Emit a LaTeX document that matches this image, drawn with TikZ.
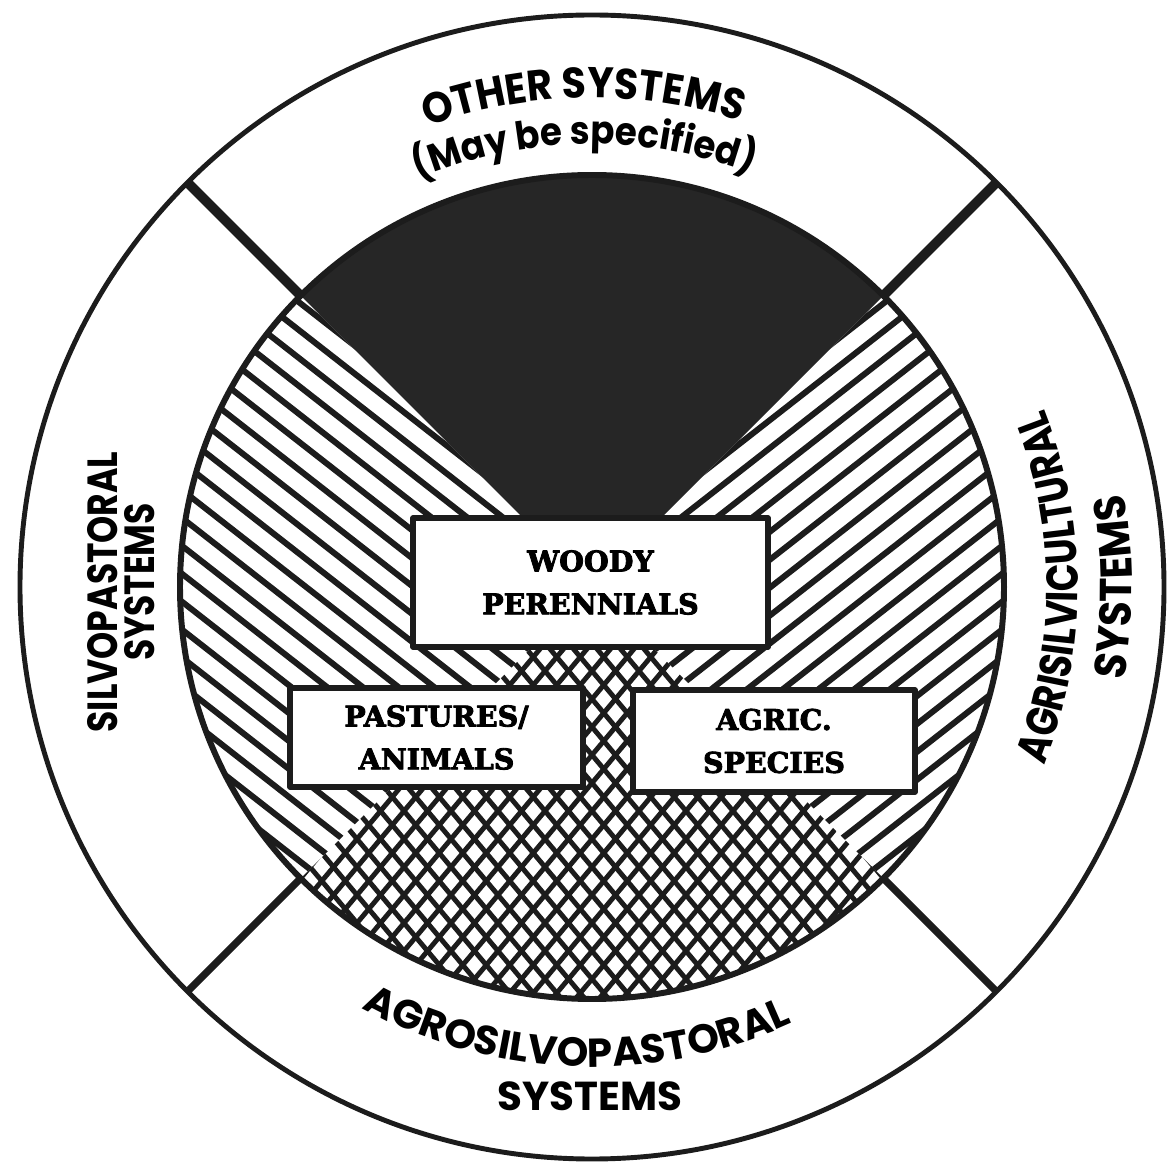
\documentclass[tikz,border=0pt]{standalone}
\usepackage{fontspec}
\usetikzlibrary{decorations.text}
\newfontfamily\ringfont{Poppins}[FakeStretch=0.82]
\newfontfamily\ringmid{Poppins}[FakeStretch=0.92]
\newfontfamily\ringwide{Poppins}
\newfontfamily\boxfont{DejaVu Serif}[BoldFeatures={FakeBold=3}]
\definecolor{inkcol}{HTML}{1C1C1C}
\definecolor{darkcol}{HTML}{262626}
\newcommand{\coreR}{4.12}
\newcommand{\rimR}{5.72}
\newcommand{\ringsize}{\bfseries\fontsize{12.7}{15}\selectfont}
\newcommand{\sidesize}{\bfseries\fontsize{12}{15}\selectfont}
\newcommand{\topsize}{\bfseries\fontsize{12.2}{15}\selectfont}
\newcommand{\subsize}{\bfseries\fontsize{11.5}{14}\selectfont}
\newcommand{\maysize}{\bfseries\fontsize{11}{14}\selectfont}

\begin{document}
\begin{tikzpicture}[
  line join=round,
  rimline/.style={draw=inkcol, line width=1.4pt},
  coreline/.style={draw=inkcol, line width=1.7pt},
  divider/.style={draw=inkcol, line width=#1},
  hatchline/.style={draw=inkcol, line width=1.7pt},
  meshline/.style={draw=inkcol, line width=1.4pt},
  box/.style={draw=inkcol, fill=white, line width=1.6pt, align=center,
              inner sep=0pt, font=\boxfont\bfseries\fontsize{8.1}{12.2}\selectfont},
  sidelabel/.style={font=\ringfont\sidesize, rotate=90, anchor=base},
  curved/.style={decorate, decoration={text along path, text align=center, text={#1}}},
]
\useasboundingbox (-5.92,-5.74) rectangle (5.78,5.87);

% ------------------------------------------------------------ top sector
\fill[darkcol] (0,0) -- (45:\coreR)
  arc[start angle=45, end angle=135, radius=\coreR] -- cycle;

% ----------------------------------------------------------- left sector
\begin{scope}
  \clip (0,0) -- (135:\coreR)
    arc[start angle=135, end angle=225, radius=\coreR] -- cycle;
  \foreach \k in {-20,...,20}
    \draw[hatchline, rotate=-38] (-6,{\k*0.22}) -- (6,{\k*0.22});
\end{scope}

% ---------------------------------------------------------- right sector
\begin{scope}
  \clip (0,0) -- (-45:\coreR)
    arc[start angle=-45, end angle=45, radius=\coreR] -- cycle;
  \foreach \k in {-20,...,20}
    \draw[hatchline, rotate=38] (-6,{\k*0.22}) -- (6,{\k*0.22});
\end{scope}

% --------------------------------------------------------- bottom sector
\begin{scope}
  \clip (0,0) -- (225:\coreR)
    arc[start angle=225, end angle=315, radius=\coreR] -- cycle;
  \foreach \k in {-25,...,25} {
    \draw[meshline, rotate=50]  (-6,{\k*0.18}) -- (6,{\k*0.18});
    \draw[meshline, rotate=-50] (-6,{\k*0.18}) -- (6,{\k*0.18});
  }
\end{scope}

% ------------------------------------------------------------- rings
\draw[coreline] (0,0) circle[radius=\coreR];
\draw[rimline]  (0,0) circle[radius=\rimR];
\foreach \a in {45,135}
  \draw[divider=2.8pt] (\a:\coreR) -- (\a:\rimR);
\foreach \a in {225,315}
  \draw[divider=2.1pt] (\a:\coreR) -- (\a:\rimR);

% ------------------------------------------------------------- boxes
\node[box, minimum width=3.55cm, minimum height=1.29cm] (woody)
  at (-0.015,0.045) {WOODY\\PERENNIALS};
\node[box, minimum width=2.93cm, minimum height=0.99cm] (pasture)
  at (-1.555,-1.505) {PASTURES/\\ANIMALS};
\node[box, minimum width=2.82cm, minimum height=1.02cm] (agric)
  at (1.82,-1.54) {AGRIC.\\SPECIES};

% ------------------------------------------------------------- ring labels
\path[curved={|\ringmid\topsize|OTHER SYSTEMS}]
  (161:4.89) arc[start angle=161, end angle=21, radius=4.89];
\path[curved={|\ringmid\maysize|(May be specified)}]
  (161:4.43) arc[start angle=161, end angle=21, radius=4.43];

\node[sidelabel] (silvo)    at (-4.74,-0.05) {SILVOPASTORAL};
\node[sidelabel] (silvosys) at (-4.37,0.05)  {SYSTEMS};

\path[curved={|\ringfont\ringsize|AGRISILVICULTURAL}]
  (-35:4.86) arc[start angle=-35, end angle=35, radius=4.86];
\path[curved={|\ringmid\ringsize|SYSTEMS}]
  (-25:5.40) arc[start angle=-25, end angle=25, radius=5.40];

\path[curved={|\ringwide\subsize|AGROSILVOPASTORAL}]
  (-130:4.80) arc[start angle=-130, end angle=-54, radius=4.80];
\node[font=\ringwide\subsize, anchor=base] (agrosys) at (-0.02,-5.23) {SYSTEMS};

\end{tikzpicture}
\end{document}
